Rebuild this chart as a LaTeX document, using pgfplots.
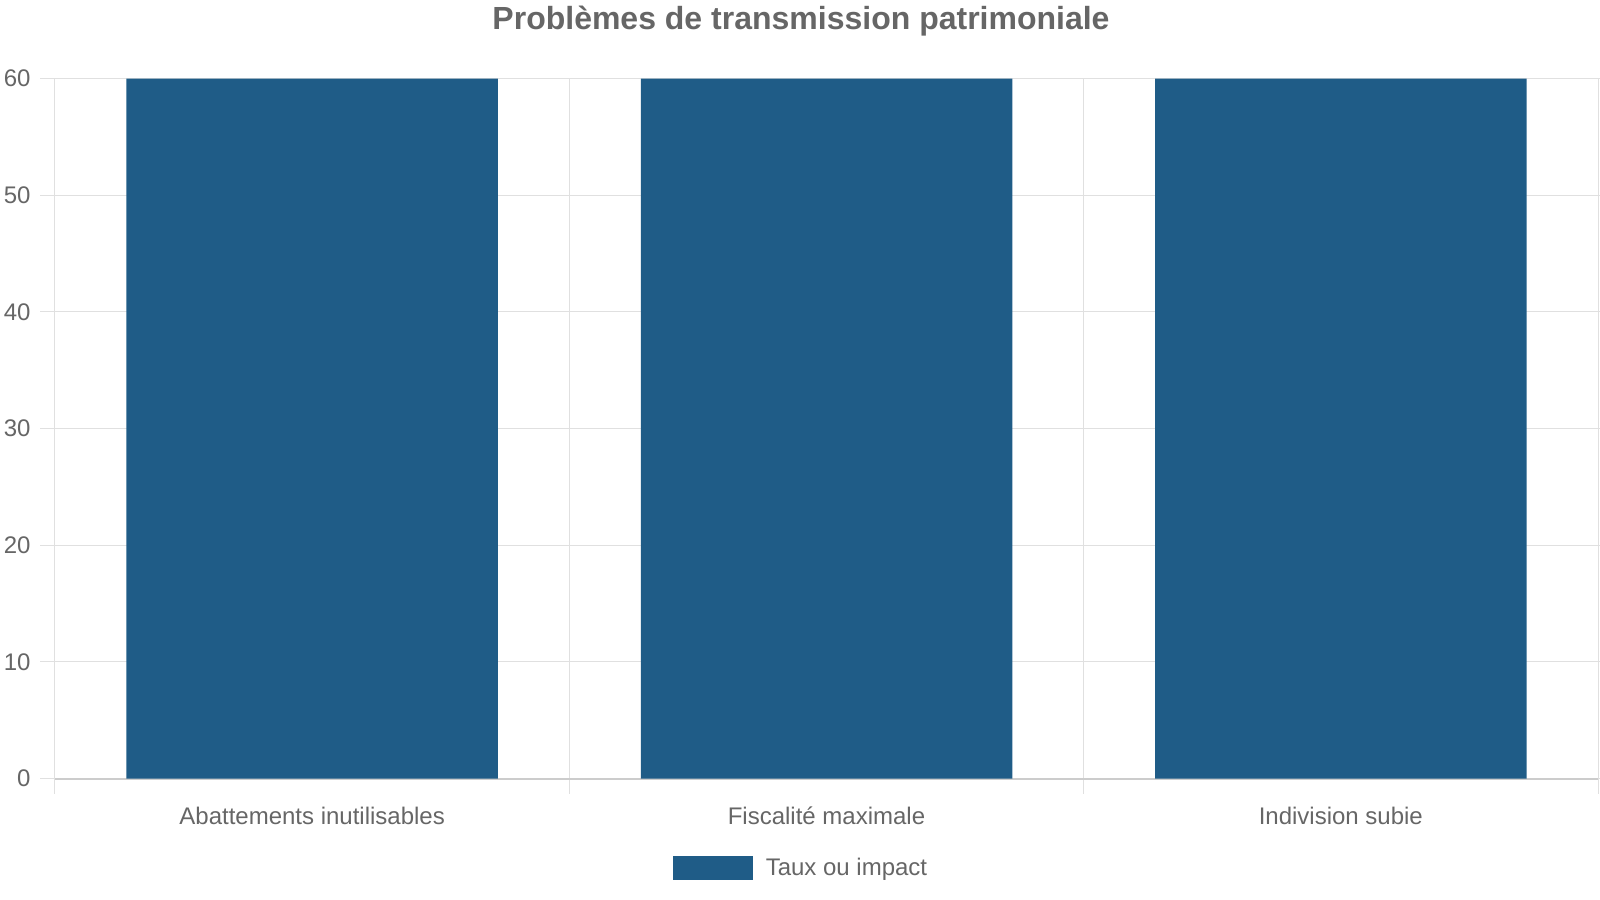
\documentclass[border=0pt]{standalone}
\usepackage{fontspec}
\setmainfont{Liberation Sans}
\usepackage{pgfplots}
\pgfplotsset{compat=1.18}

\definecolor{barblue}{HTML}{1F5C87}
\definecolor{txtgray}{HTML}{666666}
\definecolor{gridgray}{HTML}{E0E0E0}
\definecolor{axgray}{HTML}{CCCCCC}

\begin{document}
\begin{tikzpicture}
% page = 1600x900 px, 1 px = 0.5bp
\path[use as bounding box] (-27.5bp,-60.7bp) rectangle (772.5bp,389.3bp);
\begin{axis}[
    scale only axis,
    width=771.5bp, height=350bp,
    xmin=-0.5, xmax=2.5,
    ymin=0, ymax=60,
    ytick={0,10,...,60},
    xtick={0,1,2},
    xticklabels={Abattements inutilisables, Fiscalité maximale, Indivision subie},
    minor xtick={-0.5,0.5,1.5,2.5},
    xminorgrids=true, ymajorgrids=true,
    grid style={gridgray, line width=0.5bp},
    minor grid style={gridgray, line width=0.5bp},
    tick align=outside,
    major tick length=7.5bp, minor tick length=7.5bp,
    major x tick style={draw=none},
    minor x tick style={gridgray, line width=0.5bp},
    major y tick style={gridgray, line width=0.5bp},
    axis line style={gridgray, line width=0.5bp},
    axis x line*=bottom,
    x axis line style={axgray, line width=1bp},
    tick label style={font=\fontsize{12bp}{14bp}\selectfont, text=txtgray},
    xticklabel style={anchor=center, yshift=-11.2bp},
    yticklabel style={anchor=east, inner sep=0pt, xshift=-4.5bp},
    /pgf/number format/assume math mode=true,
    ybar, bar width=185.75bp,
    legend style={at={(0.4841,0)}, anchor=center, yshift=-44.7bp,
        draw=none, fill=none, font=\fontsize{12bp}{14bp}\selectfont,
        text=txtgray, /tikz/every odd column/.append style={column sep=4.5bp}},
    legend image code/.code={\fill[barblue] (0bp,-6bp) rectangle (40bp,6bp);},
]
\addplot[fill=barblue, draw=none] coordinates {(0,60) (1,60) (2,60)};
\addlegendentry{Taux ou impact}
\end{axis}
\node[anchor=base, text=txtgray, font=\fontsize{16bp}{19bp}\selectfont\bfseries]
    at (373bp,374.3bp) {Problèmes de transmission patrimoniale};
\end{tikzpicture}
\end{document}
